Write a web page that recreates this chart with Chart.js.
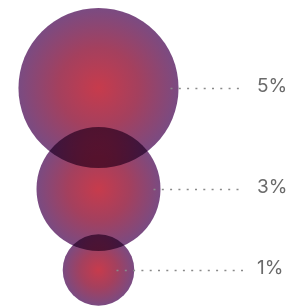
<!DOCTYPE html>
<html>
<head>
<meta charset="utf-8">
<script src="https://cdn.jsdelivr.net/npm/chart.js@4/dist/chart.umd.min.js"></script>
<style>
  html, body { margin: 0; padding: 0; background: #ffffff; }
  #wrap { width: 290px; height: 307px; position: relative; }
</style>
</head>
<body>
<div id="wrap"><canvas id="c"></canvas></div>
<script>
// Data
const labels = ['5%', '3%', '1%'];
const values = [5, 3, 1];
const yValues = [88, 189, 270];   // vertical placement (value units on hidden y scale)
const xValue = 98.5;

const RADIUS_PER_SQRT = 35.8;
const lineStartOffsets = [72, 55, 18];

function radiusFor(v) { return RADIUS_PER_SQRT * Math.sqrt(v); }

const dataPoints = values.map((v, i) => ({ x: xValue, y: yValues[i], r: radiusFor(v), v: v }));

const blendPlugin = {
  id: 'blend',
  beforeDatasetsDraw(chart) {
    chart.ctx.save();
    chart.ctx.globalCompositeOperation = 'multiply';
  },
  afterDatasetsDraw(chart) {
    chart.ctx.restore();
    const ctx = chart.ctx;
    const meta = chart.getDatasetMeta(0);
    ctx.save();
    meta.data.forEach((el, i) => {
      const px = el.x, py = el.y;
      ctx.beginPath();
      ctx.setLineDash([2, 6.3]);
      ctx.strokeStyle = '#8a8a8a';
      ctx.lineWidth = 1.3;
      ctx.moveTo(px + lineStartOffsets[i], Math.round(py) + 0.5);
      ctx.lineTo(243, Math.round(py) + 0.5);
      ctx.stroke();
      ctx.setLineDash([]);
      ctx.fillStyle = '#6a6a6a';
      ctx.font = '400 19px Inter, Lato, sans-serif';
      ctx.textBaseline = 'middle';
      ctx.textAlign = 'left';
      ctx.fillText(labels[i], 257, py - 2);
    });
    ctx.restore();
  }
};

new Chart(document.getElementById('c'), {
  type: 'bubble',
  data: {
    datasets: [{
      data: dataPoints,
      clip: false,
      borderWidth: 0,
      hoverBorderWidth: 0,
      hoverRadius: 0,
      backgroundColor: (ctx) => {
        const chart = ctx.chart;
        if (!chart.chartArea || !ctx.raw) return '#9a4262';
        const px = chart.scales.x.getPixelForValue(ctx.raw.x);
        const py = chart.scales.y.getPixelForValue(ctx.raw.y);
        const r = ctx.raw.r;
        const g = chart.ctx.createRadialGradient(px, py, 0, px, py, r);
        g.addColorStop(0, '#c73b4c');
        g.addColorStop(0.5, '#a4405e');
        g.addColorStop(1, '#7a4b82');
        return g;
      }
    }]
  },
  options: {
    responsive: true,
    maintainAspectRatio: false,
    animation: false,
    layout: { padding: 0, autoPadding: false },
    plugins: { legend: { display: false }, tooltip: { enabled: false } },
    events: [],
    scales: {
      x: { type: 'linear', min: 0, max: 290, display: false },
      y: { type: 'linear', min: 0, max: 307, reverse: true, display: false }
    }
  },
  plugins: [blendPlugin]
});
</script>
</body>
</html>
